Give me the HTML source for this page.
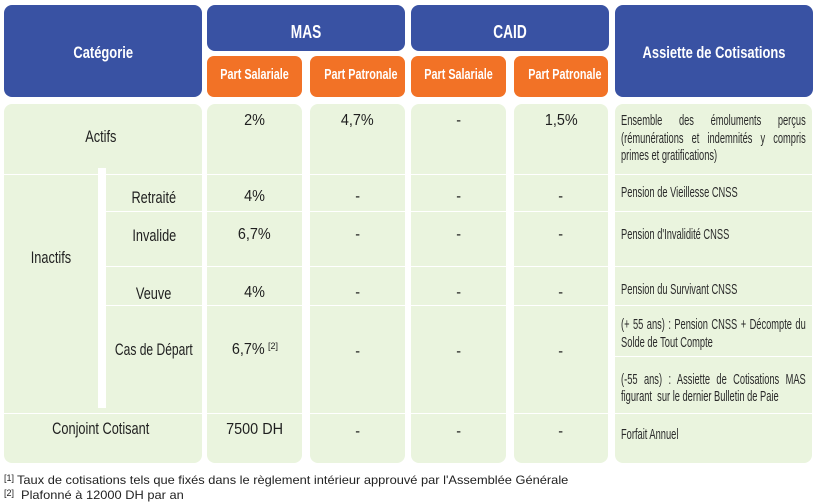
<!DOCTYPE html>
<html><head><meta charset="utf-8">
<style>
html,body{margin:0;padding:0;background:#fff;}
body{width:818px;height:503px;position:relative;overflow:hidden;font-family:"Liberation Sans",sans-serif;}
.b{position:absolute;}
.blue{background:#3952a3;border-radius:8px;}
.or{background:#f27226;border-radius:7px;}
.gr{background:#eaf4de;border-radius:8px;}
.ln{position:absolute;height:1px;background:#fff;}
.t{position:absolute;text-align:center;white-space:nowrap;line-height:1;}
.t span{display:inline-block;transform-origin:50% 50%;}
.h{color:#fff;font-weight:bold;font-size:17px;}
.h span{transform:scaleX(.76);}
.o{color:#fff;font-weight:bold;font-size:15px;}
.o span{transform:scaleX(.72);}
.l{color:#1f1f1f;font-size:17px;}
.l span{transform:scaleX(.75);}
.v{color:#1f1f1f;font-size:16px;}
.v span{transform:scaleX(.9);}
.a{position:absolute;left:621px;width:298px;font-size:15px;color:#2a2a2a;transform:scaleX(.62);transform-origin:0 0;white-space:nowrap;}
.a1{line-height:1;}
.am{line-height:17.5px;}
.am div{white-space:normal;}
.j{text-align:justify;text-align-last:justify;}
.fn{position:absolute;left:17px;font-size:12px;line-height:1;color:#222;white-space:nowrap;transform:scaleX(1.07);transform-origin:0 0;}
.sup{position:absolute;font-size:8px;line-height:1;color:#222;}
</style></head><body>

<!-- header -->
<div class="b blue" style="left:4px;top:5px;width:198px;height:92px;"></div>
<div class="b blue" style="left:207px;top:5px;width:198px;height:46px;"></div>
<div class="b blue" style="left:411px;top:5px;width:198px;height:46px;"></div>
<div class="b blue" style="left:615px;top:5px;width:198px;height:92px;"></div>
<div class="b or" style="left:207px;top:56px;width:95px;height:41px;"></div>
<div class="b or" style="left:310px;top:56px;width:95px;height:41px;"></div>
<div class="b or" style="left:411px;top:56px;width:95px;height:41px;"></div>
<div class="b or" style="left:514px;top:56px;width:94px;height:41px;"></div>

<div class="t h" style="left:4px;width:198px;top:44px;"><span>Catégorie</span></div>
<div class="t h" style="left:207px;width:198px;top:23px;font-size:18px;"><span>MAS</span></div>
<div class="t h" style="left:411px;width:198px;top:23px;font-size:18px;"><span>CAID</span></div>
<div class="t h" style="left:615px;width:198px;top:43.5px;"><span>Assiette de Cotisations</span></div>
<div class="t o" style="left:207px;width:95px;top:66.6px;"><span>Part Salariale</span></div>
<div class="t o" style="left:310px;width:95px;top:66.6px;"><span>Part Patronale</span></div>
<div class="t o" style="left:411px;width:95px;top:66.6px;"><span>Part Salariale</span></div>
<div class="t o" style="left:514px;width:94px;top:66.6px;"><span>Part Patronale</span></div>

<!-- body columns -->
<div class="b gr" style="left:4px;top:104px;width:198px;height:359px;"></div>
<div class="b gr" style="left:207px;top:104px;width:95px;height:359px;"></div>
<div class="b gr" style="left:310px;top:104px;width:95px;height:359px;"></div>
<div class="b gr" style="left:411px;top:104px;width:95px;height:359px;"></div>
<div class="b gr" style="left:514px;top:104px;width:94px;height:359px;"></div>
<div class="b gr" style="left:615px;top:104px;width:197px;height:359px;"></div>

<!-- separators -->
<div class="ln" style="left:4px;width:808px;top:174px;"></div>
<div class="ln" style="left:106px;width:706px;top:211px;"></div>
<div class="ln" style="left:106px;width:706px;top:266px;"></div>
<div class="ln" style="left:106px;width:706px;top:305px;"></div>
<div class="ln" style="left:615px;width:197px;top:356px;"></div>
<div class="ln" style="left:4px;width:808px;top:413px;"></div>
<div class="b" style="left:202px;top:170px;width:5px;height:250px;background:#fff;"></div>
<div class="b" style="left:302px;top:170px;width:8px;height:250px;background:#fff;"></div>
<div class="b" style="left:405px;top:170px;width:6px;height:250px;background:#fff;"></div>
<div class="b" style="left:506px;top:170px;width:8px;height:250px;background:#fff;"></div>
<div class="b" style="left:608px;top:170px;width:7px;height:250px;background:#fff;"></div>
<!-- vertical bar -->
<div class="b" style="left:98px;top:168px;width:8px;height:240px;background:#fff;"></div>

<!-- left labels -->
<div class="t l" style="left:4px;width:194px;top:128.2px;"><span>Actifs</span></div>
<div class="t l" style="left:4px;width:94px;top:249.3px;"><span>Inactifs</span></div>
<div class="t l" style="left:106px;width:96px;top:188.8px;"><span>Retraité</span></div>
<div class="t l" style="left:106px;width:96px;top:226.8px;"><span>Invalide</span></div>
<div class="t l" style="left:106px;width:96px;top:284.5px;"><span>Veuve</span></div>
<div class="t l" style="left:54px;width:200px;top:341.1px;"><span style="transform:scaleX(.71)">Cas de Départ</span></div>
<div class="t l" style="left:4px;width:194px;top:420.1px;"><span>Conjoint Cotisant</span></div>

<!-- Actifs row values -->
<div class="t v" style="left:207px;width:95px;top:112.8px;"><span>2%</span></div>
<div class="t v" style="left:310px;width:95px;top:112.8px;"><span>4,7%</span></div>
<div class="t v" style="left:411px;width:95px;top:112.8px;"><span>-</span></div>
<div class="t v" style="left:514px;width:94px;top:112.8px;"><span>1,5%</span></div>

<!-- Retraité -->
<div class="t v" style="left:207px;width:95px;top:189.3px;"><span>4%</span></div>
<div class="t v" style="left:310px;width:95px;top:189.3px;"><span>-</span></div>
<div class="t v" style="left:411px;width:95px;top:189.3px;"><span>-</span></div>
<div class="t v" style="left:514px;width:94px;top:189.3px;"><span>-</span></div>
<!-- Invalide -->
<div class="t v" style="left:207px;width:95px;top:227.3px;"><span>6,7%</span></div>
<div class="t v" style="left:310px;width:95px;top:227.3px;"><span>-</span></div>
<div class="t v" style="left:411px;width:95px;top:227.3px;"><span>-</span></div>
<div class="t v" style="left:514px;width:94px;top:227.3px;"><span>-</span></div>
<!-- Veuve -->
<div class="t v" style="left:207px;width:95px;top:285px;"><span>4%</span></div>
<div class="t v" style="left:310px;width:95px;top:285px;"><span>-</span></div>
<div class="t v" style="left:411px;width:95px;top:285px;"><span>-</span></div>
<div class="t v" style="left:514px;width:94px;top:285px;"><span>-</span></div>
<!-- Cas de départ -->
<div class="t v" style="left:228px;width:40px;top:342.3px;"><span>6,7%</span></div>
<div class="sup" style="left:268px;top:342px;font-size:9px;">[2]</div>
<div class="t v" style="left:310px;width:95px;top:344px;"><span>-</span></div>
<div class="t v" style="left:411px;width:95px;top:344px;"><span>-</span></div>
<div class="t v" style="left:514px;width:94px;top:344px;"><span>-</span></div>
<!-- Conjoint -->
<div class="t v" style="left:207px;width:95px;top:422.3px;"><span>7500 DH</span></div>
<div class="t v" style="left:310px;width:95px;top:424px;"><span>-</span></div>
<div class="t v" style="left:411px;width:95px;top:424px;"><span>-</span></div>
<div class="t v" style="left:514px;width:94px;top:424px;"><span>-</span></div>

<!-- Assiette column -->
<div class="a am" style="top:112px;">
  <div class="j">Ensemble des émoluments perçus</div>
  <div class="j">(rémunérations et indemnités y compris</div>
  <div>primes et gratifications)</div>
</div>
<div class="a a1" style="top:185.3px;">Pension de Vieillesse CNSS</div>
<div class="a a1" style="top:226.8px;">Pension d'Invalidité CNSS</div>
<div class="a a1" style="top:281.8px;">Pension du Survivant CNSS</div>
<div class="a am" style="top:316px;">
  <div class="j">(+ 55 ans) : Pension CNSS + Décompte du</div>
  <div>Solde de Tout Compte</div>
</div>
<div class="a am" style="top:370.5px;">
  <div class="j">(-55 ans) : Assiette de Cotisations MAS</div>
  <div>figurant&nbsp; sur le dernier Bulletin de Paie</div>
</div>
<div class="a a1" style="top:426.8px;">Forfait Annuel</div>

<!-- footnotes -->
<div class="sup" style="left:4px;top:474px;font-size:9px;">[1]</div>
<div class="fn" style="top:474.2px;">Taux de cotisations tels que fixés dans le règlement intérieur approuvé par l'Assemblée Générale</div>
<div class="sup" style="left:4px;top:489px;font-size:9px;">[2]</div>
<div class="fn" style="left:21px;top:489.2px;">Plafonné à 12000 DH par an</div>

</body></html>
